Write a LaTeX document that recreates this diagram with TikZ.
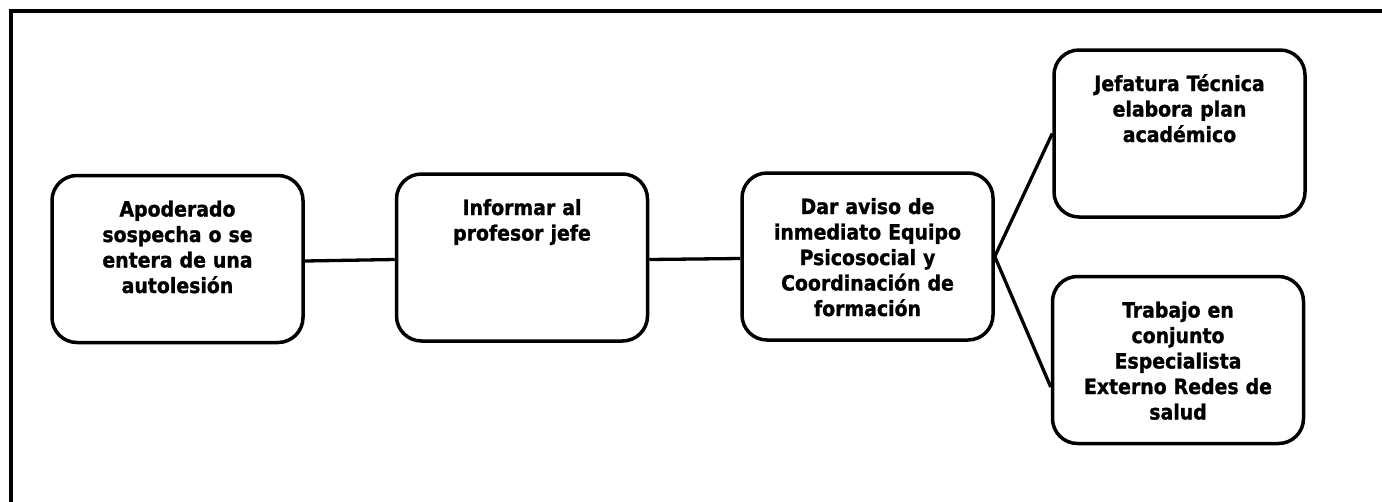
\documentclass[tikz,border=0pt]{standalone}
\usepackage{fontspec}
\setmainfont{DejaVu Sans Condensed}[BoldFeatures={FakeBold=1.2}]
\tikzstyle{paso} = [rectangle, rounded corners=25pt, draw=black, line width=3.5pt, minimum width=251pt, minimum height=167pt, inner sep=0pt, text width=231pt, align=center, text height=41pt, text depth=126pt, font=\fontsize{21pt}{25.5pt}\selectfont\bfseries]
\tikzstyle{enlace} = [line width=3.3pt]

\begin{document}
\begin{tikzpicture}[x=1pt, y=-1pt]

        \useasboundingbox (0,0) rectangle (1382,501);
        \clip (0,0) rectangle (1382,501);
        % marco de la pagina (solo se ven los lados de arriba e izquierdo)
        \draw[line width=4pt] (11,550) -- (11,11) -- (1430,11);

        \node (apoderado) [paso] at (177.5,259) {Apoderado\\ sospecha o se\\ entera de una\\ autolesión};
        \node (informar) [paso] at (522,257.5) {Informar al\\ profesor jefe};
        \node (aviso) [paso] at (867.5,256.5) {Dar aviso de\\ inmediato Equipo\\ Psicosocial y\\ Coordinación de\\ formación};

        \node (jefatura) [paso] at (1179.5,133.5) {Jefatura Técnica\\ elabora plan\\ académico};
        \node (trabajo) [paso] at (1178,360) {Trabajo en\\ conjunto\\ Especialista\\ Externo Redes de\\ salud};

        \draw[enlace] ([yshift=-2pt]apoderado.east) -- ([yshift=-2pt]informar.west);
        \draw[enlace] ([yshift=-2pt]informar.east) -- ([yshift=-2pt]aviso.west);
        \draw[enlace] (aviso.east) -- (jefatura.west);
        \draw[enlace] (aviso.east) -- ([yshift=-27pt]trabajo.west);

    \end{tikzpicture}
\end{document}
